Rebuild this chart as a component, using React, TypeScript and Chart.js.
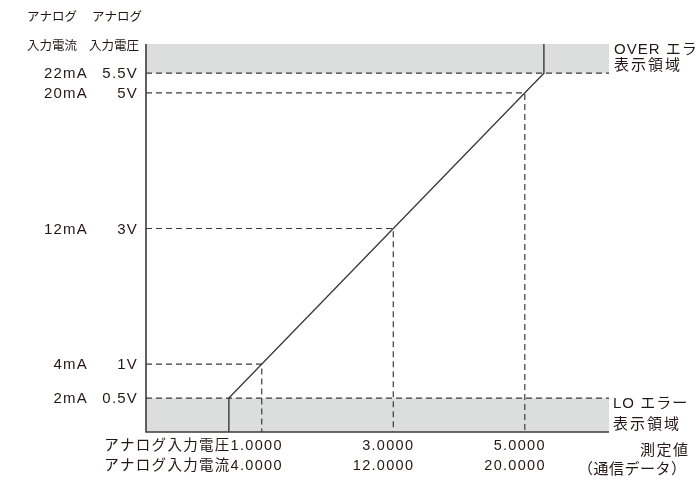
import { useEffect, useRef } from "react";
import { Chart, registerables } from "chart.js";

Chart.register(...registerables);

// Scale extents (schematic units: value on the measured axis = volts on the input axis)
const X_MIN = -0.76;
const X_MAX = 6.28;
const Y_MIN = 0;
const Y_MAX = 5.72;

// Error thresholds (schematic positions)
const loLevel = 0.5;
const overLevel = 5.29;

// Characteristic line points
const lineX = [0.5, 0.5, 5.29, 5.29];
const lineY = [0, 0.5, 5.29, Y_MAX];

// Guide levels with dashed helpers
const guideLevels = [1, 3, 5];

// Y tick labels
const yTickValues = [0.5, 1, 3, 5, 5.29];
const yCurrentLabels = ["2mA", "4mA", "12mA", "20mA", "22mA"];
const yVoltageLabels = ["0.5V", "1V", "3V", "5V", "5.5V"];

// X tick labels
const xTickValues = [1, 3, 5];
const xVoltageLabels = ["アナログ入力電圧1.0000", "3.0000", "5.0000"];
const xCurrentLabels = ["アナログ入力電流4.0000", "12.0000", "20.0000"];

const LINE = "#3e3a39";
const TEXT = "#231815";
const GRAY = "#dcdddd";
const FONT = '"Liberation Sans", "Noto Sans CJK JP", sans-serif';

export default function App() {
  const ref = useRef<HTMLCanvasElement | null>(null);

  useEffect(() => {
    if (!ref.current) return;

    const guideData: any[] = [];
    guideLevels.forEach((v) => {
      guideData.push({ x: X_MIN, y: v });
      guideData.push({ x: v, y: v });
      guideData.push({ x: v, y: Y_MIN });
      guideData.push({ x: v, y: null });
    });

    const textPlugin = {
      id: "annot",
      afterDraw(chart: any) {
        const ctx = chart.ctx as CanvasRenderingContext2D;
        const xs = chart.scales.x;
        const ys = chart.scales.y;
        const a = chart.chartArea;
        ctx.save();
        // axes
        ctx.strokeStyle = LINE;
        ctx.lineWidth = 1.6;
        ctx.setLineDash([]);
        ctx.beginPath();
        ctx.moveTo(a.left, a.top);
        ctx.lineTo(a.left, a.bottom);
        ctx.lineTo(a.right, a.bottom);
        ctx.stroke();

        const draw = (
          t: string,
          x: number,
          y: number,
          align: CanvasTextAlign,
          size: number,
          spacing: number
        ) => {
          ctx.font = `${size}px ${FONT}`;
          (ctx as any).letterSpacing = `${spacing}px`;
          ctx.fillStyle = TEXT;
          ctx.textAlign = align;
          ctx.textBaseline = "middle";
          ctx.fillText(t, x, y);
        };

        // headers
        draw("アナログ", 27, 18, "left", 12.5, 0);
        draw("入力電流", 27, 47, "left", 12.5, 0);
        draw("アナログ", 92, 18, "left", 12.5, 0);
        draw("入力電圧", 89, 47, "left", 12.5, 0);

        // y ticks
        yTickValues.forEach((v, i) => {
          const py = ys.getPixelForValue(v);
          draw(yCurrentLabels[i], 88, py + 1, "right", 15, 1.2);
          draw(yVoltageLabels[i], 138, py + 1, "right", 15, 1.2);
        });

        // x ticks
        xTickValues.forEach((v, i) => {
          const px = xs.getPixelForValue(v);
          draw(xVoltageLabels[i], px + 21, 446, "right", 14.5, 1.3);
          draw(xCurrentLabels[i], px + 21, 466, "right", 14.5, 1.3);
        });

        // right-side annotations
        draw("OVER エラー", 614, 50, "left", 15, 1);
        draw("表示領域", 614, 66, "left", 15, 2);
        draw("LO エラー", 613, 404, "left", 15, 1);
        draw("表示領域", 613, 425, "left", 15, 2);
        draw("測定値", 640, 451, "left", 15, 1.5);
        draw("（通信データ）", 578, 470, "left", 15, 0.5);
        ctx.restore();
      },
    };

    const chart = new Chart(ref.current, {
      type: "line",
      data: {
        datasets: [
          {
            label: "line",
            data: lineX.map((x, i) => ({ x, y: lineY[i] })),
            borderColor: LINE,
            borderWidth: 1.4,
            pointRadius: 0,
            fill: false,
            tension: 0,
          },
          {
            label: "guides",
            data: guideData,
            borderColor: LINE,
            borderWidth: 1.2,
            borderDash: [6, 4],
            pointRadius: 0,
            fill: false,
            spanGaps: false,
          },
          {
            label: "lo",
            data: [
              { x: X_MIN, y: loLevel },
              { x: X_MAX, y: loLevel },
            ],
            borderColor: LINE,
            borderWidth: 1.2,
            borderDash: [6, 4],
            backgroundColor: GRAY,
            pointRadius: 0,
            fill: "start",
          },
          {
            label: "over",
            data: [
              { x: X_MIN, y: overLevel },
              { x: X_MAX, y: overLevel },
            ],
            borderColor: LINE,
            borderWidth: 1.2,
            borderDash: [6, 4],
            backgroundColor: GRAY,
            pointRadius: 0,
            fill: "end",
          },
        ],
      },
      options: {
        animation: false,
        responsive: false,
        layout: { padding: { left: 146, right: 90, top: 44, bottom: 51 } },
        plugins: { legend: { display: false }, tooltip: { enabled: false } },
        scales: {
          x: { type: "linear", min: X_MIN, max: X_MAX, display: false },
          y: { type: "linear", min: Y_MIN, max: Y_MAX, display: false },
        },
      },
      plugins: [textPlugin],
    });

    return () => chart.destroy();
  }, []);

  return (
    <div style={{ position: "absolute", left: 0, top: 0, width: 699, height: 483, background: "#fff" }}>
      <canvas ref={ref} width={699} height={483} />
    </div>
  );
}
